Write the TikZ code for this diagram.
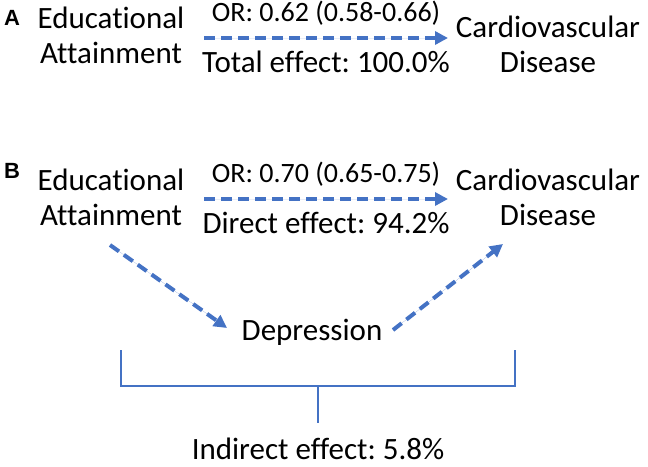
\documentclass[tikz,border=0pt]{standalone}
\usepackage{fontspec}
\setmainfont{Carlito}[Ligatures=NoCommon]
\newfontfamily\tagfont{Liberation Sans}
\usetikzlibrary{arrows.meta, positioning}
\definecolor{effblue}{HTML}{4472C4}
\frenchspacing

\begin{document}
\begin{tikzpicture}[x=1pt, y=-1pt, >={Triangle[length=13pt, width=13pt]},
    term/.style={inner sep=0pt, align=center, anchor=base, font=\fontsize{31}{35}\selectfont},
    orlab/.style={inner sep=0pt, anchor=base, yshift=17pt, font=\fontsize{28}{32}\selectfont},
    efflab/.style={term, yshift=-34pt},
    tag/.style={inner sep=0pt, font=\tagfont\bfseries\fontsize{22}{26}\selectfont},
    effect/.style={->, draw=effblue, fill=effblue, line width=4pt, dash pattern=on 11pt off 6pt},
    bracket/.style={draw=effblue, line width=1.3pt}]
    \useasboundingbox (0,0) rectangle (648,466);

    % panel A: total effect
    \node[tag] (tagA) at (12,18) {A};
    \node[term] (eduA) at (111,63) {Educational\\Attainment};
    \node[term] (cvdA) at (548,72) {Cardiovascular\\Disease};
    \coordinate (aS) at (204,38);
    \coordinate (aE) at (448,38);
    \draw[effect] (aS) -- node[orlab] (orA) {OR: 0.62 (0.58-0.66)}
        node[efflab] (totA) {Total effect: 100.0\%} (aE);

    % panel B: direct and indirect effect
    \node[tag] (tagB) at (12,171) {B};
    \node[term] (eduB) at (111,225) {Educational\\Attainment};
    \node[term] (cvdB) at (548,225) {Cardiovascular\\Disease};
    \coordinate (bS) at (204,199);
    \coordinate (bE) at (448,199);
    \draw[effect] (bS) -- node[orlab] (orB) {OR: 0.70 (0.65-0.75)}
        node[efflab] (dirB) {Direct effect: 94.2\%} (bE);

    \node[term] (dep) at (312,340) {Depression};
    \coordinate (mS) at (110,245);
    \coordinate (mE) at (227,328);
    \coordinate (nS) at (393,330);
    \coordinate (nE) at (503,244);
    \draw[effect] (mS) -- (mE);
    \draw[effect] (nS) -- (nE);

    \coordinate (brL) at (121,350);
    \coordinate (brR) at (515,350);
    \coordinate (brM) at (318,386);
    \node[term] (ind) at (318,459) {Indirect effect: 5.8\%};
    \draw[bracket] (brL) -- (brL |- brM) -- (brR |- brM) -- (brR);
    \draw[bracket, shorten >=14pt] (brM) -- (brM |- ind.north);
\end{tikzpicture}
\end{document}
